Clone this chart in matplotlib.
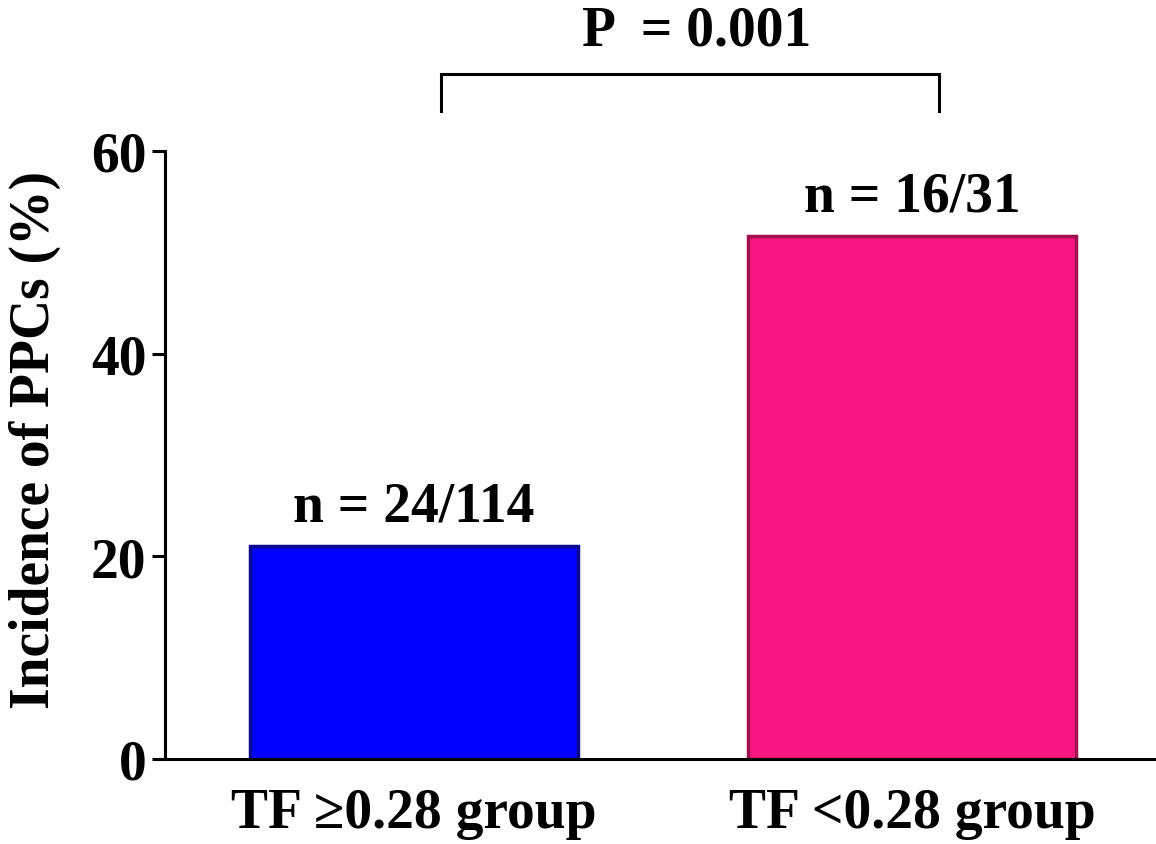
import matplotlib
matplotlib.use("Agg")
import matplotlib.pyplot as plt

categories = ["TF \u22650.28 group", "TF <0.28 group"]
values = [24 / 114 * 100, 16 / 31 * 100]
counts = ["n = 24/114", "n = 16/31"]
p_text = "P  = 0.001"
ylabel = "Incidence of PPCs (%)"
yticks = [0, 20, 40, 60]
face_colors = ["#0000FF", "#F5177F"]
edge_colors = ["#0A0A8C", "#A0104F"]

plt.rcParams['font.family'] = ['Liberation Serif', 'DejaVu Serif']
plt.rcParams['font.weight'] = 'bold'
FS = 40

fig = plt.figure(figsize=(11.56, 8.45), dpi=100)
ax = fig.add_axes([165 / 1156, 1 - 760 / 845, 1 - 165 / 1156, (760 - 152) / 845])

x = list(range(len(categories)))
ax.bar(x, values, width=0.66, color=face_colors, edgecolor=edge_colors, linewidth=2.5, zorder=2)

ax.set_xlim(-0.5, 1.49)
ax.set_ylim(0, 60)
ax.set_yticks(yticks)
ax.set_yticklabels([str(t) for t in yticks], fontsize=FS, fontweight='bold')
ax.set_xticks(x)
ax.set_xticklabels(categories, fontsize=FS, fontweight='bold')
ax.tick_params(axis='y', length=9.5, width=2.2, pad=4)
ax.tick_params(axis='x', length=0, pad=20)

for s in ['top', 'right']:
    ax.spines[s].set_visible(False)
for s in ['left', 'bottom']:
    ax.spines[s].set_linewidth(2.2)

ax.set_ylabel(ylabel, fontsize=FS, fontweight='bold')
ax.yaxis.set_label_coords(-0.105, 0.526)

for xi, v, c in zip(x, values, counts):
    ax.text(xi, v + 2.5, c, ha='center', va='baseline', fontsize=FS, fontweight='bold')

# significance bracket
bx0, bx1 = 0.054, 1.054
by, bdrop = 67.6, 63.9
ax.plot([bx0, bx0, bx1, bx1], [bdrop, by, by, bdrop], color='black', lw=2.2,
        clip_on=False, solid_joinstyle='miter')
ax.text((bx0 + bx1) / 2 + 0.014, 70.5, p_text, ha='center', va='baseline', fontsize=FS,
        fontweight='bold', clip_on=False)

fig.savefig("out.png", dpi=100)
